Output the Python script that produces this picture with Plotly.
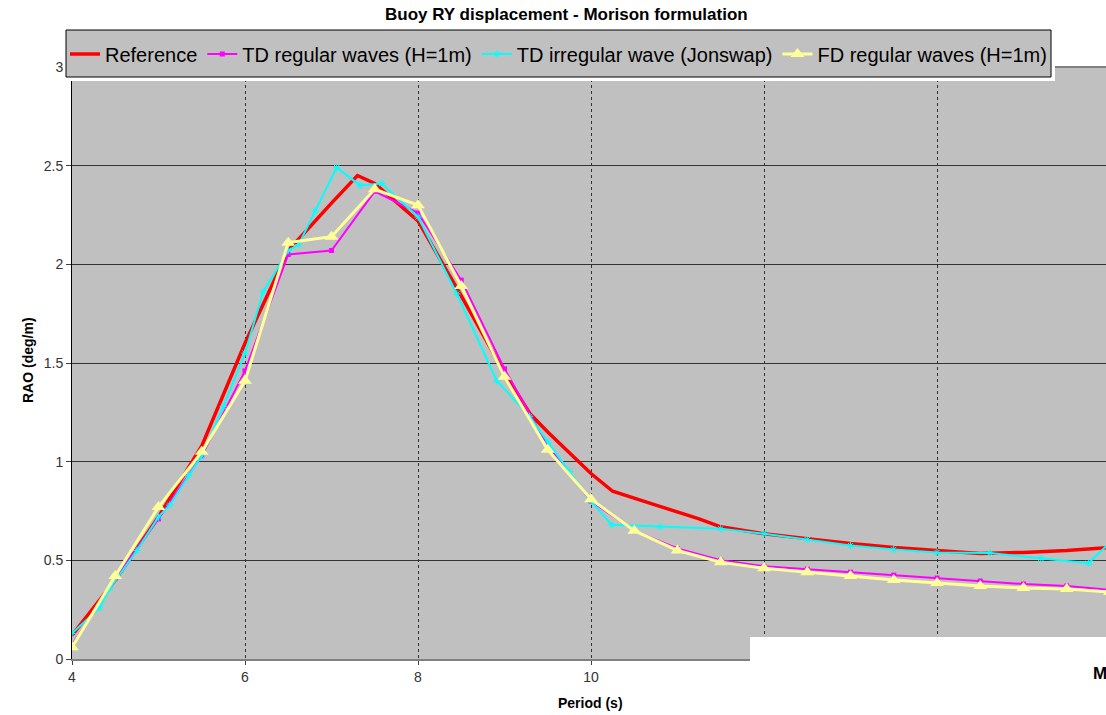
import plotly.graph_objects as go

# ---- data ----
ref_x = [4, 4.5, 5, 5.5, 6, 6.5, 7, 7.3, 7.5, 8, 8.5, 9, 9.3, 9.5, 10, 10.25,
         10.75, 11.25, 11.5, 12, 12.5, 13, 13.5, 14, 14.5, 15, 15.5, 16]
ref_y = [0.12, 0.40, 0.72, 1.08, 1.60, 2.07, 2.31, 2.45, 2.41, 2.22, 1.84, 1.45,
         1.24, 1.15, 0.94, 0.85, 0.78, 0.71, 0.67, 0.635, 0.61, 0.585, 0.565,
         0.55, 0.535, 0.54, 0.55, 0.565]

reg_x = [4, 4.5, 5, 5.5, 6, 6.5, 7, 7.5, 8, 8.5, 9, 9.5, 10, 10.5, 11, 11.5,
         12, 12.5, 13, 13.5, 14, 14.5, 15, 15.5, 16]
td_reg_y = [0.07, 0.41, 0.71, 1.03, 1.46, 2.05, 2.07, 2.37, 2.26, 1.92, 1.47,
            1.08, 0.80, 0.65, 0.56, 0.50, 0.47, 0.455, 0.44, 0.425, 0.41,
            0.395, 0.38, 0.37, 0.35]
fd_reg_y = [0.06, 0.42, 0.77, 1.05, 1.41, 2.11, 2.14, 2.38, 2.30, 1.89, 1.43,
            1.06, 0.81, 0.65, 0.55, 0.49, 0.46, 0.44, 0.42, 0.40, 0.385, 0.37,
            0.36, 0.355, 0.34]

irr_x = [4.0, 4.32, 4.44, 4.75, 5.0, 5.13, 5.35, 5.5, 5.75, 6.0, 6.21, 6.5,
         6.62, 6.81, 7.06, 7.33, 7.58, 8.0, 8.45, 8.91, 9.29, 9.5, 9.75, 10.0,
         10.24, 10.8, 11.5, 12.0, 12.5, 13.0, 13.5, 14.0, 14.61, 15.2, 15.75, 16.0]
irr_y = [0.13, 0.26, 0.36, 0.55, 0.72, 0.78, 0.93, 1.03, 1.28, 1.55, 1.86, 2.07,
         2.10, 2.27, 2.49, 2.40, 2.41, 2.24, 1.85, 1.41, 1.23, 1.10, 0.95, 0.80,
         0.68, 0.67, 0.66, 0.635, 0.605, 0.575, 0.555, 0.54, 0.537, 0.51, 0.485, 0.59]

x_tickvals = [4, 6, 8, 10, 12, 14]
x_ticktext = ["4", "6", "8", "10", "", ""]
y_tickvals = [0, 0.5, 1, 1.5, 2, 2.5, 3]
y_ticktext = ["0", "0.5", "1", "1.5", "2", "2.5", "3"]

names = ["Reference", "TD regular waves (H=1m)",
         "TD irregular wave (Jonswap)", "FD regular waves (H=1m)"]

# ---- figure ----
W, H = 1106, 715
L, R, T, B = 72, 1106, 67, 659
pw, ph = R - L, B - T


def px(xp):
    return (xp - L) / pw


def py(yp):
    return (B - yp) / ph


fig = go.Figure()
fig.add_trace(go.Scatter(x=ref_x, y=ref_y, name=names[0], mode="lines",
                         line=dict(color="#FF0000", width=3.5)))
fig.add_trace(go.Scatter(x=reg_x, y=td_reg_y, name=names[1], mode="lines+markers",
                         line=dict(color="#FF00FF", width=2),
                         marker=dict(symbol="square", size=5, color="#FF00FF")))
fig.add_trace(go.Scatter(x=irr_x, y=irr_y, name=names[2], mode="lines+markers",
                         line=dict(color="#00FFFF", width=2),
                         marker=dict(symbol="asterisk-open", size=6,
                                     line=dict(color="#00FFFF", width=1))))
fig.add_trace(go.Scatter(x=reg_x, y=fd_reg_y, name=names[3], mode="lines+markers",
                         line=dict(color="#FFFF99", width=3),
                         marker=dict(symbol="triangle-up", size=12, color="#FFFF99")))

axis_font = dict(family="Liberation Sans, Arial, sans-serif", size=14, color="#333333")

fig.update_layout(
    width=W, height=H,
    margin=dict(l=L, r=W - R, t=T, b=H - B, pad=0),
    paper_bgcolor="white",
    plot_bgcolor="#C0C0C0",
    showlegend=True,
    legend=dict(
        orientation="h", x=px(65), y=py(54), xanchor="left", yanchor="middle",
        bgcolor="rgba(0,0,0,0)", borderwidth=0,
        font=dict(family="Liberation Sans, Arial", size=20, color="black"),
        itemwidth=30, tracegroupgap=0,
    ),
    xaxis=dict(
        range=[4, 4 + pw / 86.5], tickvals=x_tickvals, ticktext=x_ticktext,
        showgrid=True, gridcolor="#333333", griddash="dot", gridwidth=1,
        zeroline=False, showline=True, linecolor="#808080", linewidth=2,
        ticks="outside", ticklen=4, tickcolor="#404040", tickfont=axis_font,
    ),
    yaxis=dict(
        range=[0, 3], tickvals=y_tickvals, ticktext=y_ticktext,
        showgrid=True, gridcolor="#333333", gridwidth=1,
        zeroline=False, showline=True, linecolor="black", linewidth=1,
        ticks="outside", ticklen=5, tickcolor="#404040", tickfont=axis_font,
    ),
    shapes=[
        # gray top border of plot area
        dict(type="line", xref="paper", yref="paper", x0=0, x1=1, y0=1, y1=1,
             line=dict(color="#808080", width=2), layer="above"),
        # white frame around legend
        dict(type="rect", xref="paper", yref="paper", x0=px(63), x1=px(1055),
             y0=py(81), y1=py(26), fillcolor="white", line=dict(width=0),
             layer="above"),
        # legend box
        dict(type="rect", xref="paper", yref="paper", x0=px(66), x1=px(1051),
             y0=py(77), y1=py(30), fillcolor="#C0C0C0",
             line=dict(color="black", width=1), layer="above"),
        # white patch at bottom right
        dict(type="rect", xref="paper", yref="paper", x0=px(750), x1=px(1110),
             y0=py(716), y1=py(637), fillcolor="white", line=dict(width=0),
             layer="above"),
    ],
    annotations=[
        dict(text="<b>Buoy RY displacement - Morison formulation</b>",
             xref="paper", yref="paper", x=px(566), y=py(15),
             xanchor="center", yanchor="middle", showarrow=False,
             font=dict(family="Liberation Sans, Arial", size=17, color="black")),
        dict(text="<b>Period (s)</b>", xref="paper", yref="paper",
             x=px(590), y=py(703), xanchor="center", yanchor="middle",
             showarrow=False,
             font=dict(family="Liberation Sans, Arial", size=14, color="black")),
        dict(text="<b>RAO (deg/m)</b>", xref="paper", yref="paper",
             x=px(28), y=py(360), xanchor="center", yanchor="middle",
             textangle=-90, showarrow=False,
             font=dict(family="Liberation Sans, Arial", size=14, color="black")),
        dict(text="<b>M</b>", xref="paper", yref="paper",
             x=px(1091), y=py(673), xanchor="left", yanchor="middle",
             showarrow=False,
             font=dict(family="Liberation Sans, Arial", size=17, color="black")),
    ],
)

fig.write_html("out.html")
